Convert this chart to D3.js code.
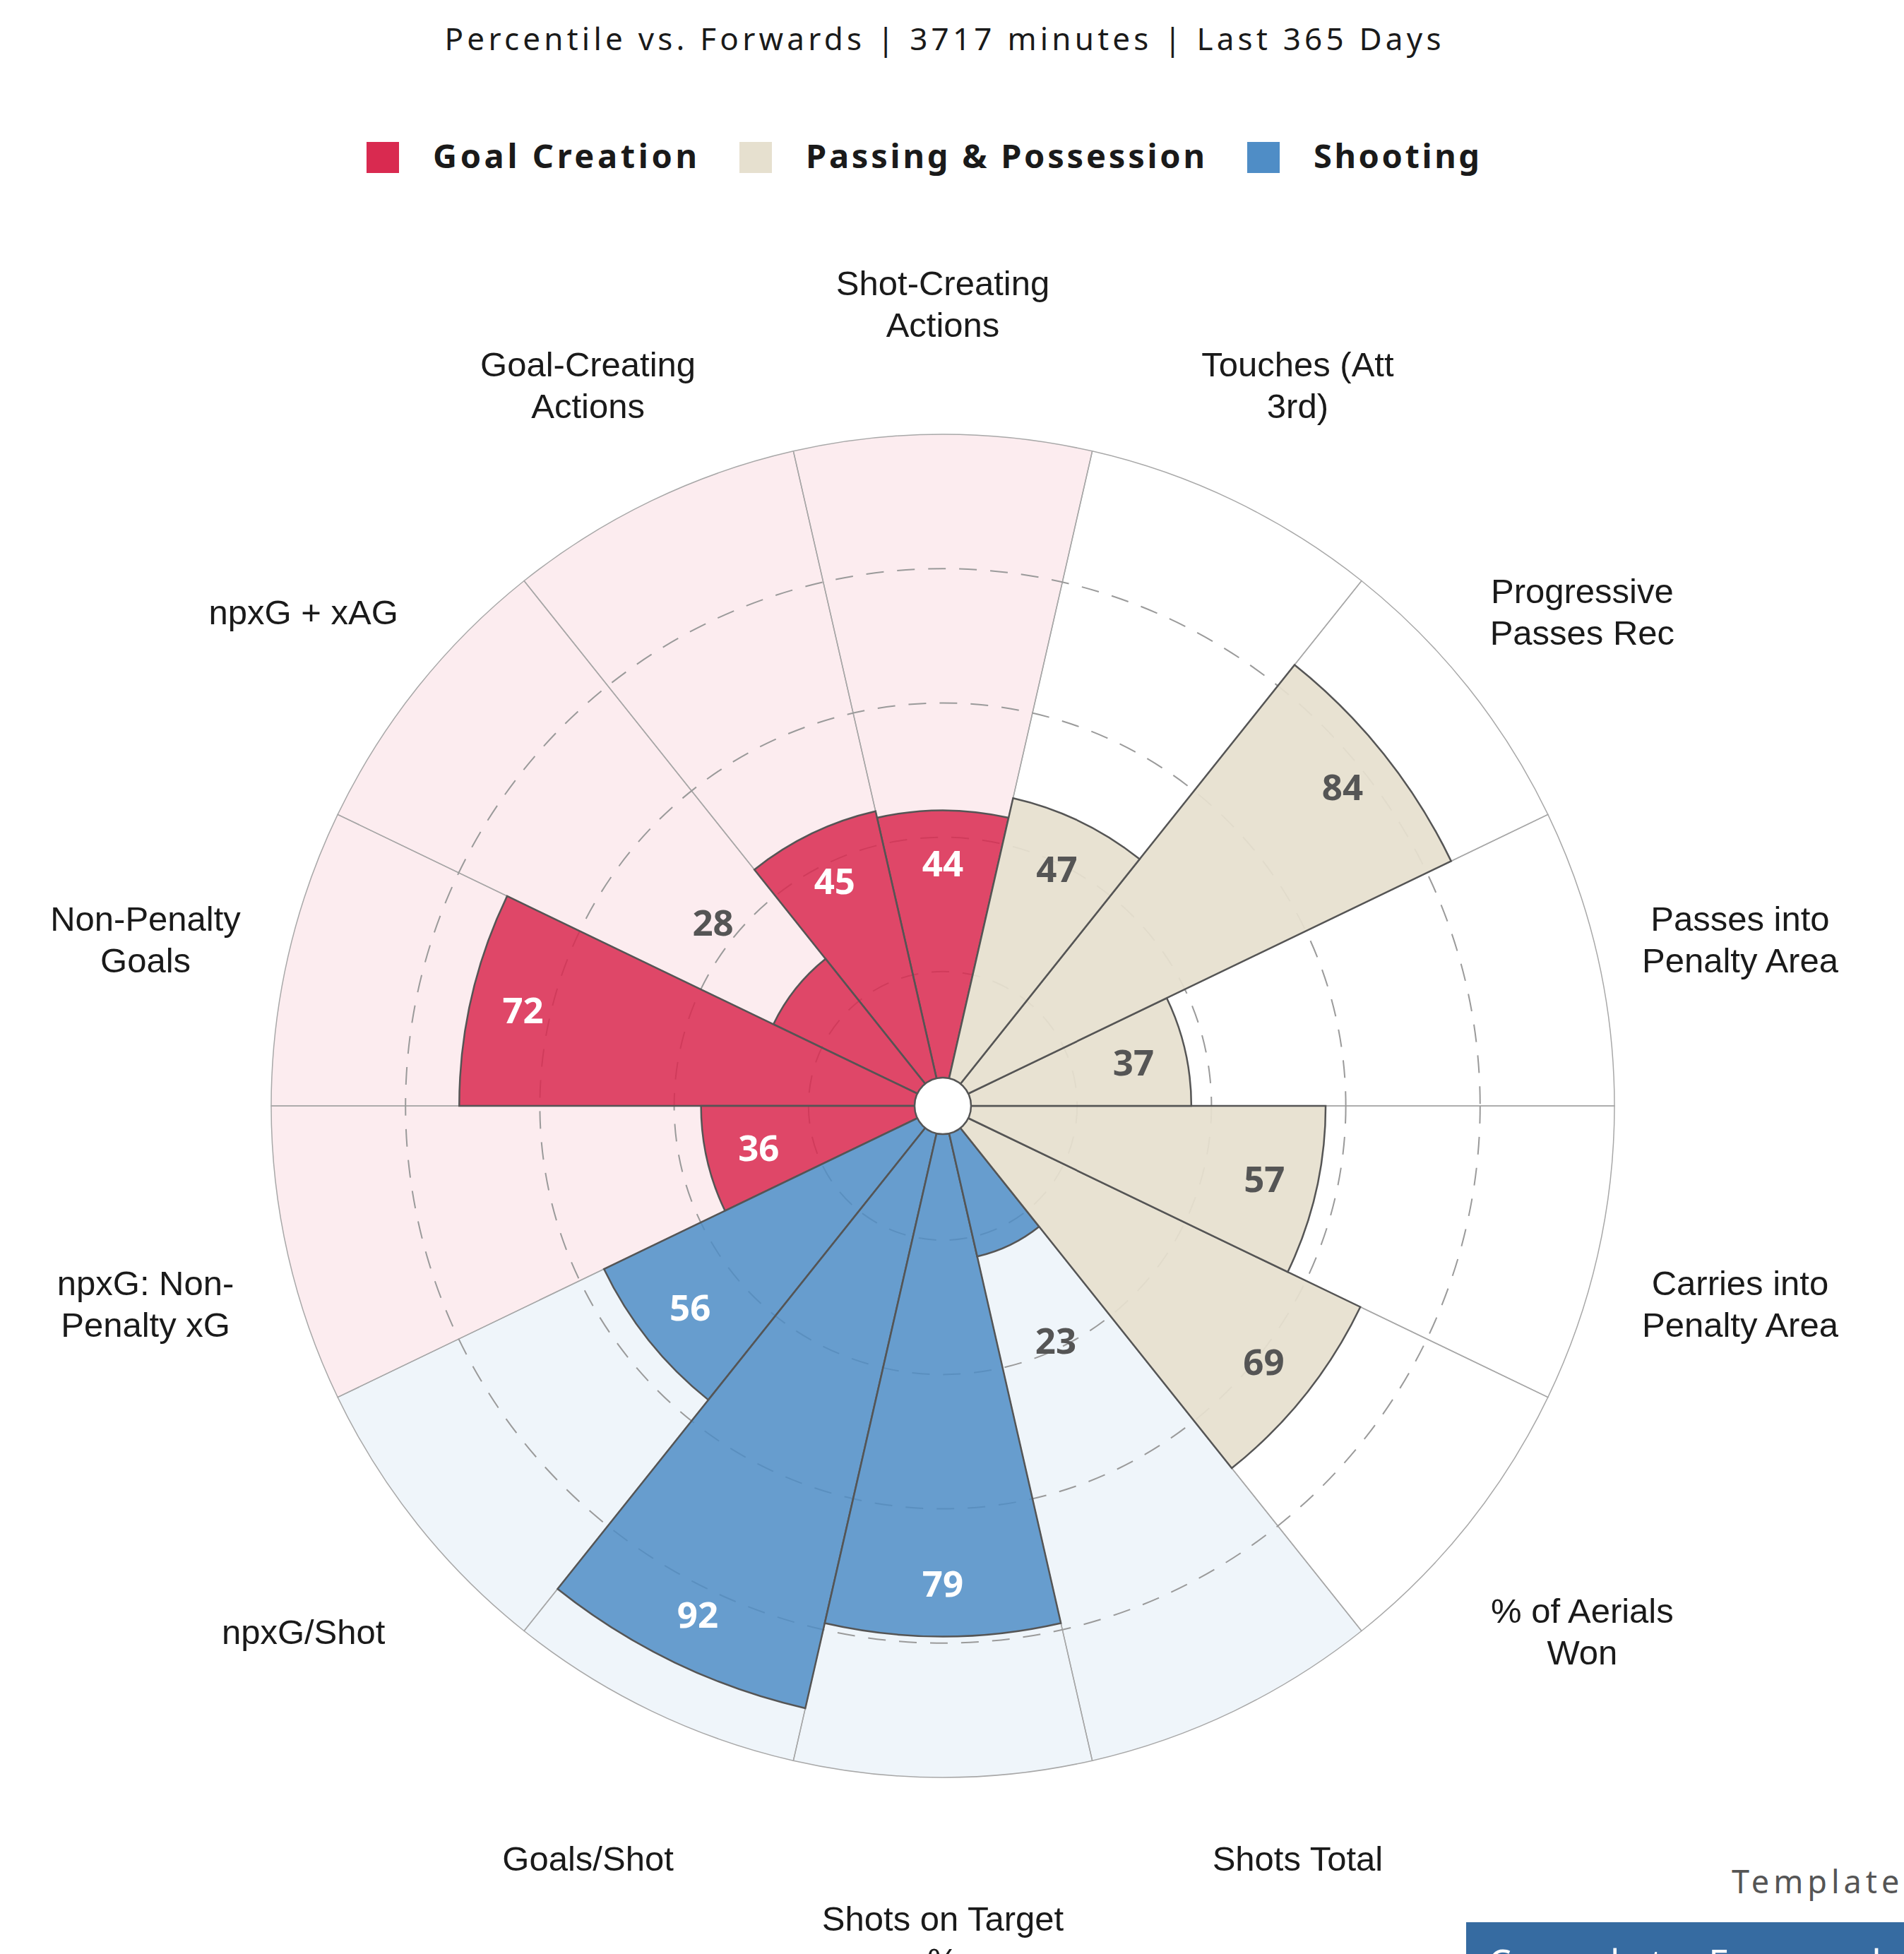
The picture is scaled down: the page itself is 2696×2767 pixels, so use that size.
<!DOCTYPE html>
<html>
<head>
<meta charset="utf-8">
<script src="https://cdn.jsdelivr.net/npm/d3@7"></script>
<style>
  body { margin: 0; background: #ffffff; }
</style>
</head>
<body>
<div id="pizza"></div>
<script>

// ----- data ----- //

var categories = [
    "Shot-Creating Actions", "Goal-Creating Actions", "npxG + xAG", "Non-Penalty Goals",
    "npxG: Non-Penalty xG", "npxG/Shot", "Goals/Shot", "Shots on Target %", "Shots Total",
    "% of Aerials Won", "Carries into Penalty Area", "Passes into Penalty Area",
    "Progressive Passes Rec", "Touches (Att 3rd)"
]

var percentiles = [44, 45, 28, 72, 36, 56, 92, 79, 23, 69, 57, 37, 84, 47]

var groupOf = [
    "Goal Creation", "Goal Creation", "Goal Creation", "Goal Creation", "Goal Creation",
    "Shooting", "Shooting", "Shooting", "Shooting",
    "Passing & Possession", "Passing & Possession", "Passing & Possession",
    "Passing & Possession", "Passing & Possession"
]

var groupNames = ["Goal Creation", "Passing & Possession", "Shooting"]
var groupColors = ["#D92A50", "#E6E0CF", "#4F8DC6"]

var gridTicks = [20, 40, 60, 80]

var titleText = "Percentile vs. Forwards | 3717 minutes | Last 365 Days"
var templateText = "Template"
var templateName = "Complete Forward"


// ----- svg + scales ----- //

var W = 2696, H = 2767
var cx = 1335, cy = 1566

var svg = d3.select("#pizza")
    .append("svg")
    .attr("width", W)
    .attr("height", H)

var color = d3.scaleOrdinal().domain(groupNames).range(groupColors)

var r = d3.scaleLinear().domain([0, 100]).range([0, 951])

var angle = d3.scaleBand().domain(categories).range([0, 2 * Math.PI])
var step = angle.bandwidth()

// ccw from the top, d3 angles go clockwise
function a0(d) { return -angle(d) - step / 2 }
function a1(d) { return -angle(d) + step / 2 }
function mid(d) { return -angle(d) }

var g = svg.append("g").attr("transform", "translate(" + cx + "," + cy + ")")

var rows = categories.map(function (c, i) {
    return { name: c, value: percentiles[i], group: groupOf[i] }
})


// ----- background slices ----- //

var bgArc = d3.arc()
    .innerRadius(0)
    .outerRadius(r(100))
    .startAngle(function (d) { return a0(d.name) })
    .endAngle(function (d) { return a1(d.name) })

g.selectAll(".bg")
    .data(rows)
    .enter()
    .append("path")
    .attr("class", "bg")
    .attr("d", bgArc)
    .attr("fill", function (d) { return color(d.group) })
    .attr("fill-opacity", function (d) { return d.group == "Passing & Possession" ? 0.0 : 0.09 })
    .attr("stroke", "#a8a8a8")
    .attr("stroke-width", 1.5)

// dashed grid
g.selectAll(".grid")
    .data(gridTicks)
    .enter()
    .append("circle")
    .attr("class", "grid")
    .attr("r", function (d) { return r(d) })
    .attr("fill", "none")
    .attr("stroke", "#9a9a9a")
    .attr("stroke-width", 2)
    .attr("stroke-dasharray", "25,19")


// ----- bars ----- //

var barArc = d3.arc()
    .innerRadius(0)
    .outerRadius(function (d) { return r(d.value) })
    .startAngle(function (d) { return a0(d.name) })
    .endAngle(function (d) { return a1(d.name) })

g.selectAll(".bar")
    .data(rows)
    .enter()
    .append("path")
    .attr("class", "bar")
    .attr("d", barArc)
    .attr("fill", function (d) { return color(d.group) })
    .attr("fill-opacity", function (d) { return d.group == "Passing & Possession" ? 0.93 : 0.85 })
    .attr("stroke", "#555555")
    .attr("stroke-width", 2.5)

// hole in the middle
g.append("circle")
    .attr("r", 40)
    .attr("fill", "#ffffff")
    .attr("stroke", "#555555")
    .attr("stroke-width", 2.5)


// ----- value labels ----- //

function valueRadius(d) {
    return d.value < 30 ? r(d.value) + 150 : r(d.value) - 75
}

g.selectAll(".val")
    .data(rows)
    .enter()
    .append("text")
    .attr("class", "val")
    .attr("x", function (d) { return valueRadius(d) * Math.sin(mid(d.name)) })
    .attr("y", function (d) { return -valueRadius(d) * Math.cos(mid(d.name)) })
    .attr("dy", "0.36em")
    .attr("text-anchor", "middle")
    .style("font-family", "'Noto Sans', 'DejaVu Sans', sans-serif")
    .style("font-weight", "bold")
    .style("font-size", "51px")
    .style("fill", function (d) {
        if (d.value < 30 || d.group == "Passing & Possession") return "#555555"
        return "#ffffff"
    })
    .text(function (d) { return d.value })


// ----- category labels ----- //

// textwrap style, 15 chars, can break after a hyphen
function wrap(s, w) {
    var chunks = s.match(/\S+?-(?=\S)|\S+|\s+/g)
    var lines = [], cur = ""
    chunks.forEach(function (c) {
        if ((cur + c).length <= w) { cur += c; return }
        if (cur.trim() != "") lines.push(cur.trimEnd())
        cur = /^\s+$/.test(c) ? "" : c
    })
    if (cur.trim() != "") lines.push(cur.trimEnd())
    return lines
}

var labelR = 1158, fs = 49, lh = 59, cap = 35

var labels = g.selectAll(".lab")
    .data(rows)
    .enter()
    .append("text")
    .attr("class", "lab")
    .attr("text-anchor", "middle")
    .style("font-family", "'Liberation Sans', Arial, sans-serif")
    .style("font-size", fs + "px")
    .style("fill", "#1a1a1a")

labels.each(function (d) {
    var lines = wrap(d.name, 15)
    var x = labelR * Math.sin(mid(d.name))
    var y = -labelR * Math.cos(mid(d.name)) + 22
    var top = y - (cap + (lines.length - 1) * lh) / 2 + cap
    d3.select(this).selectAll("tspan")
        .data(lines)
        .enter()
        .append("tspan")
        .attr("x", x)
        .attr("y", function (l, i) { return top + i * lh })
        .text(function (l) { return l })
})


// ----- title + legend ----- //

svg.append("text")
    .attr("x", cx)
    .attr("y", 71)
    .attr("text-anchor", "middle")
    .attr("textLength", 1411)
    .attr("lengthAdjust", "spacing")
    .style("font-family", "'Noto Sans', sans-serif")
    .style("font-size", "44px")
    .style("fill", "#1a1a1a")
    .text(titleText)

var legendWidths = [374, 565, 235]
var lx = 519
groupNames.forEach(function (name, i) {
    svg.append("rect")
        .attr("x", lx)
        .attr("y", 201)
        .attr("width", 46)
        .attr("height", 44)
        .attr("fill", color(name))
    svg.append("text")
        .attr("x", lx + 94)
        .attr("y", 238)
        .attr("textLength", legendWidths[i])
        .attr("lengthAdjust", "spacing")
        .style("font-family", "'Noto Sans', sans-serif")
        .style("font-weight", "bold")
        .style("font-size", "47px")
        .style("fill", "#1a1a1a")
        .text(name)
    lx = lx + 94 + legendWidths[i] + 60
})


// ----- template box, bottom right ----- //

svg.append("text")
    .attr("x", 2452)
    .attr("y", 2681)
    .style("font-family", "'Noto Sans', sans-serif")
    .style("font-size", "45px")
    .style("letter-spacing", "6px")
    .style("fill", "#555555")
    .text(templateText)

svg.append("rect")
    .attr("x", 2076)
    .attr("y", 2722)
    .attr("width", W - 2076)
    .attr("height", 60)
    .attr("fill", "#366BA1")

svg.append("text")
    .attr("x", 2107)
    .attr("y", 2799)
    .style("font-family", "'Noto Sans', sans-serif")
    .style("font-size", "52px")
    .style("letter-spacing", "7px")
    .style("fill", "#ffffff")
    .text(templateName)

</script>
</body>
</html>
